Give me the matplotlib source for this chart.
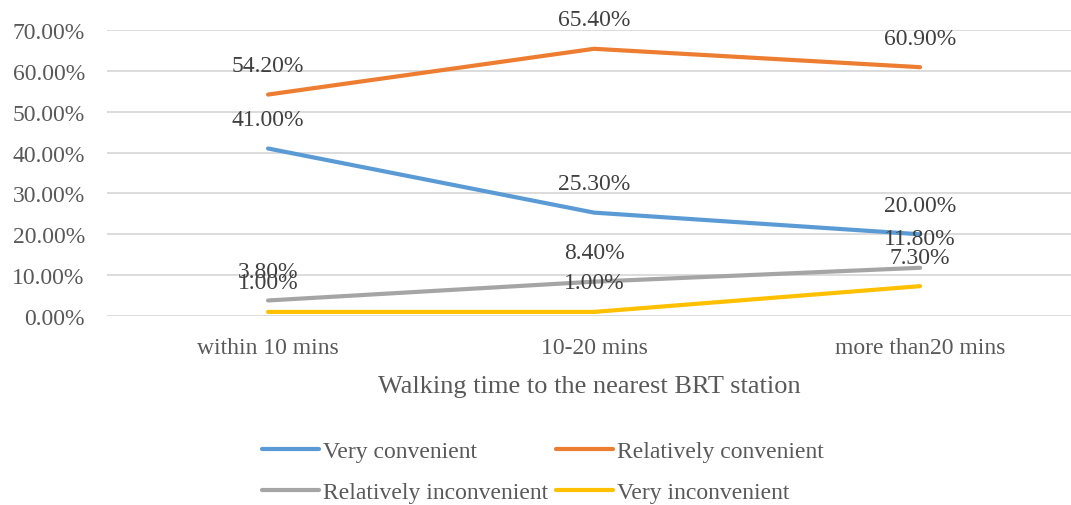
import matplotlib
matplotlib.use('Agg')
import matplotlib.pyplot as plt
from matplotlib.ticker import FuncFormatter

plt.rcParams['font.family'] = ['Liberation Serif', 'DejaVu Serif']

# Data
categories = ['within 10 mins', '10-20 mins', 'more than20 mins']
very_conv = [41.0, 25.3, 20.0]
rel_conv = [54.2, 65.4, 60.9]
rel_inconv = [3.8, 8.4, 11.8]
very_inconv = [1.0, 1.0, 7.3]

series = [
    ('Very convenient', very_conv, '#5B9BD5'),
    ('Relatively convenient', rel_conv, '#ED7D31'),
    ('Relatively inconvenient', rel_inconv, '#A5A5A5'),
    ('Very inconvenient', very_inconv, '#FFC000'),
]

fig = plt.figure(figsize=(10.71, 5.06), dpi=100)
ax = fig.add_axes([107 / 1071, 1 - 317 / 506, (1071 - 107) / 1071, (317 - 31) / 506])

x = range(len(categories))
lines = []
for name, vals, col in series:
    ln, = ax.plot(x, vals, color=col, lw=3, solid_capstyle='round', label=name, zorder=3)
    lines.append(ln)
    for xi, v in zip(x, vals):
        ax.annotate('{:.2f}%'.format(v), (xi, v), xytext=(0, 21), textcoords='offset points',
                    ha='center', va='center', fontsize=17, color='#404040', zorder=4)

ax.set_ylim(0, 70)
ax.set_xlim(-0.494, 2.463)
ax.set_yticks(range(0, 71, 10))
ax.yaxis.set_major_formatter(FuncFormatter(lambda v, p: '{:.2f}%'.format(v)))
ax.set_xticks(list(x))
ax.set_xticklabels(categories)
ax.grid(axis='y', color='#D9D9D9', lw=1.3)
ax.set_axisbelow(True)
for s in ax.spines.values():
    s.set_visible(False)
ax.tick_params(length=0, labelsize=17, colors='#595959')
ax.tick_params(axis='y', pad=16)
ax.tick_params(axis='x', pad=15)
ax.set_xlabel('Walking time to the nearest BRT station', fontsize=19, color='#595959', labelpad=12)

# Excel fills the legend row by row
order = [0, 2, 1, 3]
leg = fig.legend([lines[i] for i in order], [series[i][0] for i in order],
                 loc='center', bbox_to_anchor=(543 / 1071, 1 - 473 / 506), ncol=2, frameon=False,
                 fontsize=17, handlelength=2.4, handletextpad=0.17, columnspacing=0.35,
                 labelspacing=0.82)
for t in leg.get_texts():
    t.set_color('#595959')

fig.savefig('out.png', dpi=100)
